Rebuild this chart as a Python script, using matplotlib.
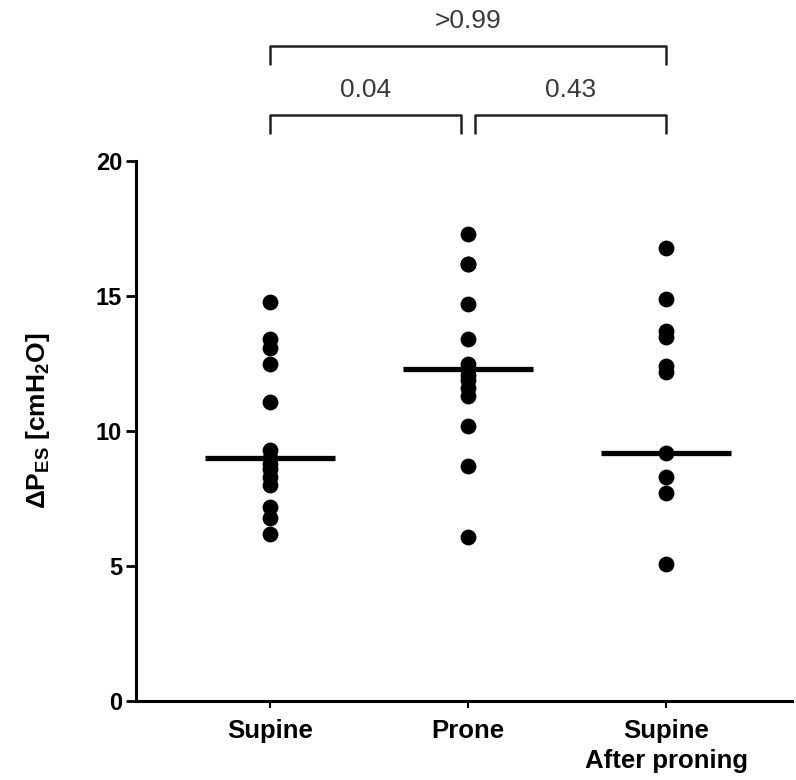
import matplotlib
matplotlib.use("Agg")
import matplotlib.pyplot as plt

plt.rcParams['font.family'] = ['Liberation Sans', 'DejaVu Sans']
plt.rcParams['mathtext.fontset'] = 'custom'
plt.rcParams['mathtext.rm'] = 'Liberation Sans:bold'
plt.rcParams['mathtext.it'] = 'Liberation Sans:bold'
plt.rcParams['mathtext.bf'] = 'Liberation Sans:bold'

# values
categories = ["Supine", "Prone", "Supine\nAfter proning"]
supine = [14.8, 13.4, 13.1, 12.5, 11.1, 9.3, 9.0, 8.8, 8.6, 8.3, 8.0, 7.2, 6.8, 6.2]
prone = [17.3, 16.2, 16.2, 14.7, 13.4, 12.5, 12.3, 12.1, 11.9, 11.6, 11.3, 10.2, 8.7, 6.1]
after = [16.8, 14.9, 13.7, 13.5, 12.4, 12.2, 9.2, 8.3, 7.7, 5.1]
medians = [9.0, 12.3, 9.2]
# (left group, right group, label, level)
comparisons = [(0, 1, "0.04", 0), (1, 2, "0.43", 0), (0, 2, ">0.99", 1)]

groups = [supine, prone, after]

fig = plt.figure(figsize=(7.96, 7.8), dpi=100)
ax = fig.add_axes([0.171, 0.101, 0.824, 0.6923])

for i, vals in enumerate(groups):
    ax.scatter([i] * len(vals), vals, s=130, color='black', zorder=3, linewidths=0)
    ax.plot([i - 0.33, i + 0.33], [medians[i], medians[i]], color='black',
            lw=3.8, solid_capstyle='butt', zorder=4)

# significance brackets above the plot area
levels = [21.7, 24.25]
drop = 0.7
for a, b, label, lvl in comparisons:
    xa, xb = a, b
    if lvl == 0:
        if a == 1:
            xa = a + 0.035
        if b == 1:
            xb = b - 0.035
    y = levels[lvl]
    ax.plot([xa, xa, xb, xb], [y - drop, y, y, y - drop], color='#222222',
            lw=1.8, clip_on=False, solid_capstyle='butt')
    ax.text((xa + xb) / 2, y + 0.5, label, ha='center', va='bottom',
            fontsize=19, color='#3a3a3a', clip_on=False)

ax.set_xlim(-0.677, 2.636)
ax.set_ylim(0, 20)
ax.set_yticks([0, 5, 10, 15, 20])
ax.set_xticks(range(len(categories)))
ax.set_xticklabels(categories, fontsize=18.5, fontweight='bold', linespacing=1.3)
ax.tick_params(axis='y', labelsize=17, width=2, length=7, pad=3)
ax.tick_params(axis='x', width=1.5, length=5, pad=8)
for lab in ax.get_yticklabels():
    lab.set_fontweight('bold')

ax.spines['top'].set_visible(False)
ax.spines['right'].set_visible(False)
ax.spines['left'].set_linewidth(2.2)
ax.spines['bottom'].set_linewidth(2.2)

ax.set_ylabel('ΔP$_{\\mathrm{ES}}$ [cmH$_{\\mathrm{2}}$O]', fontsize=19,
              fontweight='bold')
ax.yaxis.set_label_coords(-0.128, 0.52)

fig.savefig('out.png', dpi=100)
